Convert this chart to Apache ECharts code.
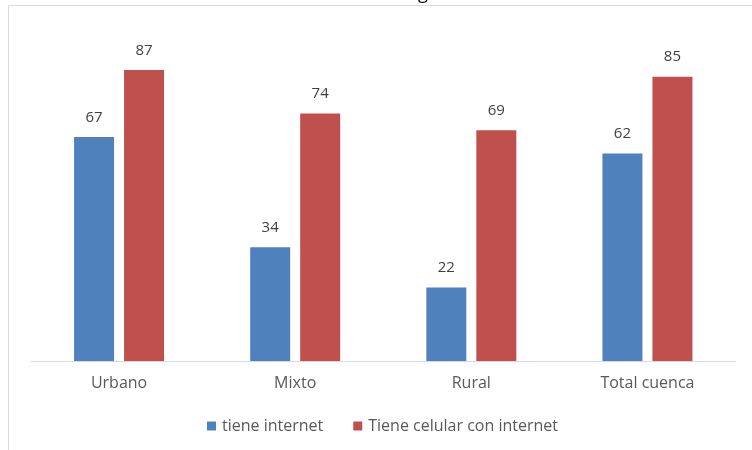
<!DOCTYPE html>
<html>
<head>
<meta charset="utf-8">
<script src="https://cdn.jsdelivr.net/npm/echarts@6/dist/echarts.min.js"></script>
<style>html,body{margin:0;padding:0;background:#fff}#c{width:752px;height:450px}</style>
</head>
<body>
<div id="c"></div>
<script>
const categories = ['Urbano', 'Mixto', 'Rural', 'Total cuenca'];
const seriesNames = ['tiene internet', 'Tiene celular con internet'];
const tieneInternet = [67, 34, 22, 62];
const celularInternet = [87, 74, 69, 85];

const chart = echarts.init(document.getElementById('c'), null, {renderer: 'canvas'});
const font = '"Open Sans", sans-serif';
const labelCfg = {show: true, position: 'top', distance: 12, color: '#404040', fontSize: 15, fontFamily: font};
chart.setOption({
  animation: false,
  backgroundColor: '#fff',
  graphic: [
    {type: 'rect', shape: {x: 8.5, y: 5.5, width: 760, height: 460}, style: {fill: 'none', stroke: '#d9d9d9', lineWidth: 1}, silent: true},
    {type: 'text', left: 418, top: -15, style: {text: 'g', fontSize: 18, fontFamily: font, fill: '#000'}, silent: true}
  ],
  grid: {left: 31, right: 16.5, top: 26.5, bottom: 89, containLabel: false},
  legend: {
    data: seriesNames,
    left: 202, top: 413,
    itemWidth: 9, itemHeight: 9, itemGap: 30,
    icon: 'rect',
    textStyle: {color: '#595959', fontSize: 16, fontFamily: font, padding: [0, 0, 0, 1]}
  },
  xAxis: {
    type: 'category', data: categories,
    axisLine: {lineStyle: {color: '#d9d9d9'}},
    axisTick: {show: false},
    axisLabel: {color: '#595959', fontSize: 16, fontFamily: font, margin: 14}
  },
  yAxis: {type: 'value', min: 0, max: 100, show: false, splitLine: {show: false}},
  series: [
    {name: seriesNames[0], type: 'bar', data: tieneInternet, barWidth: 40, barGap: '25%', itemStyle: {color: '#4F81BD'}, label: labelCfg},
    {name: seriesNames[1], type: 'bar', data: celularInternet, barWidth: 40, itemStyle: {color: '#C0504D'}, label: labelCfg}
  ]
});
</script>
</body>
</html>
